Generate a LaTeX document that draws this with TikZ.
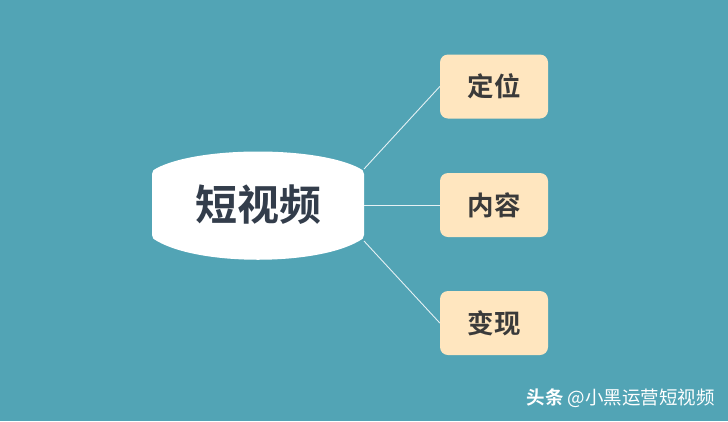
\documentclass[tikz,border=0pt]{standalone}
\usepackage{fontspec}
\newfontfamily\cjk{Noto Sans CJK SC}[BoldFont={Noto Sans CJK SC Bold}]
\definecolor{bg}{HTML}{52A4B5}
\definecolor{leaf}{HTML}{FFE6BF}
\definecolor{ctext}{HTML}{333D4B}
\definecolor{ltext}{HTML}{3A3A3A}
\tikzset{
  leafbox/.style={fill=leaf, rounded corners=8pt, minimum width=108pt, minimum height=64pt, inner sep=0pt, text=ltext, font=\cjk\bfseries\fontsize{26.5}{26.5}\selectfont},
  link/.style={draw=white!85!bg, line width=0.9pt},
}
\begin{document}
\begin{tikzpicture}[x=1pt,y=-1pt]
\useasboundingbox[fill=bg] (0,0) rectangle (728,421);
% central shape
\fill[white] (157,168) .. controls (200,146) and (316,146) .. (359,168)
  .. controls (362,169) and (364,171) .. (364,174) -- (364,235)
  .. controls (364,238) and (362,240) .. (359,241)
  .. controls (316,266) and (200,266) .. (157,241)
  .. controls (154,240) and (152,238) .. (152,235) -- (152,174)
  .. controls (152,171) and (154,169) .. (157,168) -- cycle;
\node[text=ctext, font=\cjk\bfseries\fontsize{42}{42}\selectfont, inner sep=0pt] (c) at (258.5,205) {短视频};
\coordinate (c1) at (364,169);
\coordinate (c2) at (364,205);
\coordinate (c3) at (364,241);
\node[leafbox] (a) at (494,86.5) {定位};
\node[leafbox] (b) at (494,205) {内容};
\node[leafbox] (d) at (494,323) {变现};
\draw[link] (c1) -- (a.west);
\draw[link] (c2) -- (b.west);
\draw[link] (c3) -- (d.west);
\node[anchor=east, text=white, font=\cjk\fontsize{18.5}{18.5}\selectfont, inner sep=0pt] (w) at (715,398.5) {{\bfseries 头条} @小黑运营短视频};
\end{tikzpicture}
\end{document}
